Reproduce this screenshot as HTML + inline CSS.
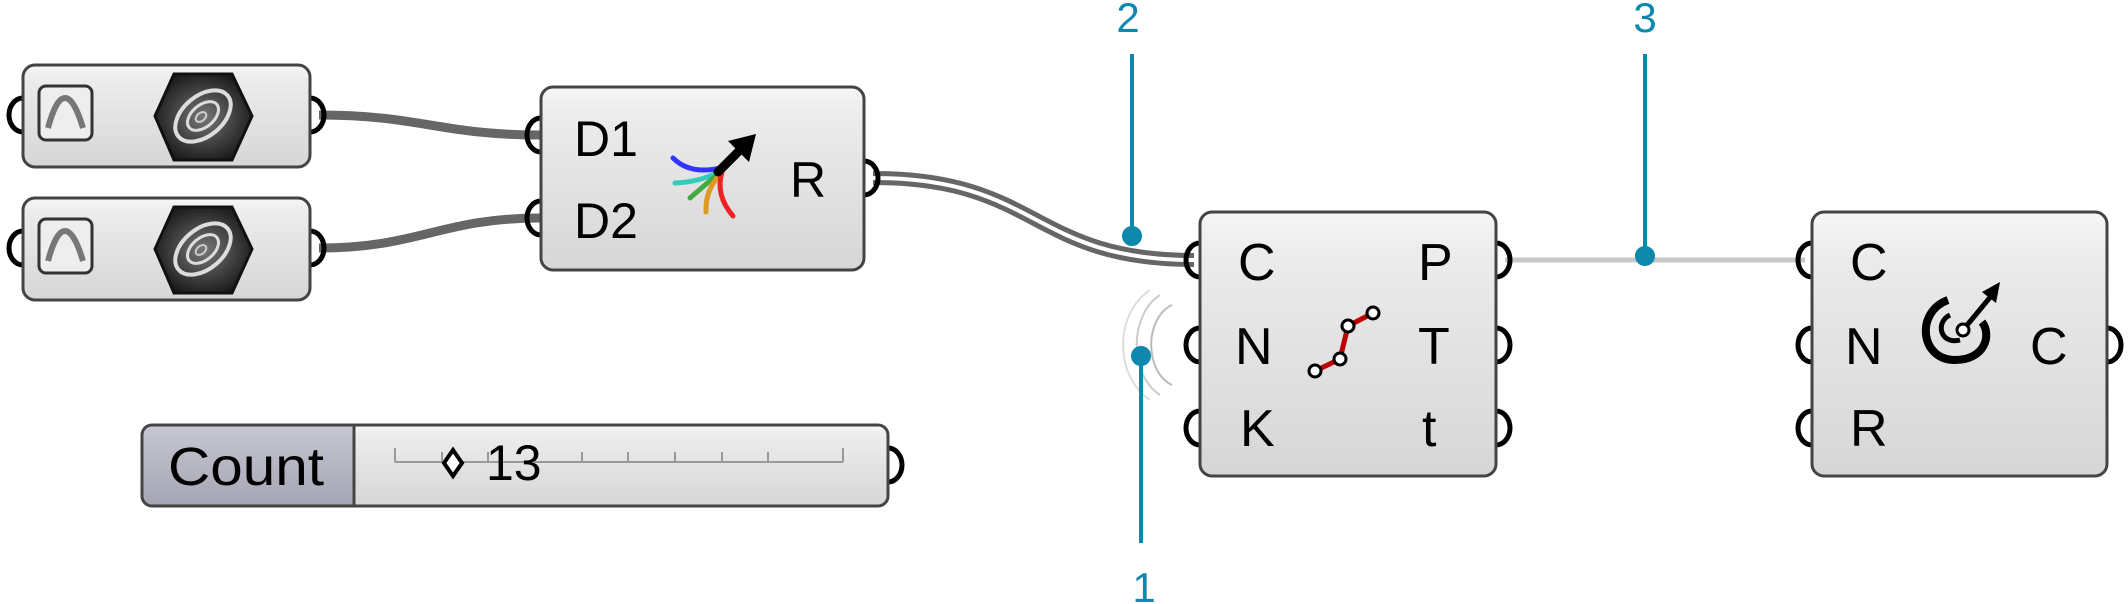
<!DOCTYPE html>
<html><head><meta charset="utf-8"><style>
html,body{margin:0;padding:0;background:#fff;}
svg{display:block;}
text{font-family:"Liberation Sans",sans-serif;}
</style></head><body>
<svg width="2128" height="604" viewBox="0 0 2128 604" xmlns="http://www.w3.org/2000/svg">
<defs>
<linearGradient id="g" x1="0" y1="0" x2="0" y2="1">
<stop offset="0" stop-color="#f6f6f6"/><stop offset="0.15" stop-color="#ececec"/><stop offset="1" stop-color="#d6d6d6"/>
</linearGradient>
<linearGradient id="gc" x1="0" y1="0" x2="0" y2="1">
<stop offset="0" stop-color="#c8c8d2"/><stop offset="1" stop-color="#a4a4b4"/>
</linearGradient>
<radialGradient id="hx" cx="0.5" cy="0.5" r="0.6">
<stop offset="0" stop-color="#777"/><stop offset="1" stop-color="#111"/>
</radialGradient>
</defs>

<!-- wires -->
<path d="M319,115 C420,115 440,135 541,135" stroke="#666" stroke-width="9" fill="none"/>
<path d="M319,248 C420,248 440,218 541,218" stroke="#666" stroke-width="9" fill="none"/>
<path d="M873,178 C1040,178 1030,260 1194,260" stroke="#666" stroke-width="14" fill="none"/>
<path d="M873,178 C1040,178 1030,260 1194,260" stroke="#fff" stroke-width="4" fill="none"/>
<line x1="1505" y1="260" x2="1805" y2="260" stroke="#c8c8c8" stroke-width="5"/>

<g stroke="#000" stroke-width="5" fill="none">
<path d="M23,98 A14,17 0 0 0 23,132"/><path d="M310,98 A14,17 0 0 1 310,132"/>
<path d="M23,231 A14,17 0 0 0 23,265"/><path d="M310,231 A14,17 0 0 1 310,265"/>
<path d="M541,118 A14,17 0 0 0 541,152"/><path d="M541,201 A14,17 0 0 0 541,235"/>
<path d="M864,161 A14,17 0 0 1 864,195"/>
<path d="M1200,243 A14,17 0 0 0 1200,277"/><path d="M1200,328 A14,17 0 0 0 1200,362"/><path d="M1200,411 A14,17 0 0 0 1200,445"/>
<path d="M1496,243 A14,17 0 0 1 1496,277"/><path d="M1496,328 A14,17 0 0 1 1496,362"/><path d="M1496,411 A14,17 0 0 1 1496,445"/>
<path d="M1812,243 A14,17 0 0 0 1812,277"/><path d="M1812,328 A14,17 0 0 0 1812,362"/><path d="M1812,411 A14,17 0 0 0 1812,445"/>
<path d="M2107,328 A14,17 0 0 1 2107,362"/>
<path d="M888,448 A14,17 0 0 1 888,482"/>
</g>

<g id="a1">
<rect x="23" y="65" width="287" height="102" rx="12" fill="url(#g)" stroke="#444" stroke-width="3"/>
<rect x="39" y="86" width="53" height="54" rx="7" fill="#eee" stroke="#333" stroke-width="3"/>
<path d="M48,128 Q56,98 65,98 Q74,98 83,128" stroke="#777" stroke-width="6" fill="none"/>
<polygon points="174,74 232,74 252,116 232,160 174,160 155,116" fill="url(#hx)" stroke="#111" stroke-width="3"/>
<ellipse cx="203" cy="116" rx="32" ry="20" fill="none" stroke="#ddd" stroke-width="4" transform="rotate(-40 203 116)"/>
<ellipse cx="203" cy="116" rx="18" ry="11" fill="none" stroke="#ddd" stroke-width="3" transform="rotate(-40 203 116)"/>
<ellipse cx="201" cy="117" rx="6" ry="4" fill="none" stroke="#ccc" stroke-width="2" transform="rotate(-40 201 117)"/>
</g>
<g transform="translate(0,133)">
<rect x="23" y="65" width="287" height="102" rx="12" fill="url(#g)" stroke="#444" stroke-width="3"/>
<rect x="39" y="86" width="53" height="54" rx="7" fill="#eee" stroke="#333" stroke-width="3"/>
<path d="M48,128 Q56,98 65,98 Q74,98 83,128" stroke="#777" stroke-width="6" fill="none"/>
<polygon points="174,74 232,74 252,116 232,160 174,160 155,116" fill="url(#hx)" stroke="#111" stroke-width="3"/>
<ellipse cx="203" cy="116" rx="32" ry="20" fill="none" stroke="#ddd" stroke-width="4" transform="rotate(-40 203 116)"/>
<ellipse cx="203" cy="116" rx="18" ry="11" fill="none" stroke="#ddd" stroke-width="3" transform="rotate(-40 203 116)"/>
<ellipse cx="201" cy="117" rx="6" ry="4" fill="none" stroke="#ccc" stroke-width="2" transform="rotate(-40 201 117)"/>
</g>

<!-- merge node -->
<rect x="541" y="87" width="323" height="183" rx="12" fill="url(#g)" stroke="#444" stroke-width="3"/>
<text x="574" y="156" font-size="50">D1</text>
<text x="574" y="238" font-size="50">D2</text>
<text x="790" y="197" font-size="50">R</text>
<g fill="none" stroke-width="5" stroke-linecap="round">
<path d="M673,158 Q690,175 720,168" stroke="#33f"/>
<path d="M675,183 Q700,182 718,172" stroke="#3cb"/>
<path d="M690,198 Q705,185 718,174" stroke="#4a4"/>
<path d="M706,212 Q705,190 720,175" stroke="#d92"/>
<path d="M733,216 Q715,195 722,172" stroke="#e22"/>
<path d="M718,172 L745,145" stroke="#000" stroke-width="9"/>
</g>
<polygon points="756,134 728,141 749,162" fill="#000"/>

<!-- count slider -->
<path d="M152,425 H354 V506 H152 Q142,506 142,496 V435 Q142,425 152,425 Z" fill="url(#gc)"/>
<path d="M354,425 H878 Q888,425 888,435 V496 Q888,506 878,506 H354 Z" fill="url(#g)"/>
<rect x="142" y="425" width="746" height="81" rx="10" fill="none" stroke="#444" stroke-width="3"/>
<line x1="354" y1="425" x2="354" y2="506" stroke="#444" stroke-width="3"/>
<text x="168" y="485" font-size="54" textLength="156" lengthAdjust="spacingAndGlyphs">Count</text>
<g stroke="#999" stroke-width="2">
<line x1="395" y1="462" x2="843" y2="462"/>
<line x1="395" y1="448" x2="395" y2="462"/><line x1="442" y1="452" x2="442" y2="462"/><line x1="488" y1="452" x2="488" y2="462"/>
<line x1="535" y1="452" x2="535" y2="462"/><line x1="582" y1="452" x2="582" y2="462"/><line x1="628" y1="452" x2="628" y2="462"/>
<line x1="675" y1="452" x2="675" y2="462"/><line x1="722" y1="452" x2="722" y2="462"/><line x1="768" y1="452" x2="768" y2="462"/><line x1="843" y1="448" x2="843" y2="462"/>
</g>
<polygon points="453,450 462,463 453,476 444,463" fill="#fff" stroke="#000" stroke-width="4"/>
<text x="486" y="480" font-size="50">13</text>

<!-- middle node -->
<path d="M1172,385 A30,42 0 0 1 1172,305" stroke="#bbb" stroke-width="2" fill="none"/>
<path d="M1160,395 A40,55 0 0 1 1160,295" stroke="#ccc" stroke-width="2" fill="none"/>
<path d="M1150,400 A50,62 0 0 1 1150,290" stroke="#ddd" stroke-width="2" fill="none"/>
<rect x="1200" y="212" width="296" height="264" rx="12" fill="url(#g)" stroke="#444" stroke-width="3"/>
<text x="1238" y="280" font-size="52">C</text>
<text x="1235" y="364" font-size="52">N</text>
<text x="1240" y="446" font-size="52">K</text>
<text x="1418" y="280" font-size="52">P</text>
<text x="1418" y="364" font-size="52">T</text>
<text x="1422" y="446" font-size="52">t</text>
<polyline points="1315,371 1340,359 1348,326 1373,313" fill="none" stroke="#b00" stroke-width="5"/>
<g fill="#fff" stroke="#000" stroke-width="3">
<circle cx="1315" cy="371" r="6"/><circle cx="1340" cy="359" r="6"/><circle cx="1348" cy="326" r="6"/><circle cx="1373" cy="313" r="6"/>
</g>

<!-- right node -->
<rect x="1812" y="212" width="295" height="264" rx="12" fill="url(#g)" stroke="#444" stroke-width="3"/>
<text x="1850" y="280" font-size="52">C</text>
<text x="1845" y="364" font-size="52">N</text>
<text x="1850" y="446" font-size="52">R</text>
<text x="2030" y="364" font-size="52">C</text>
<path d="M1948,300 C1915,312 1920,360 1955,360 C1985,360 1992,335 1982,322" fill="none" stroke="#000" stroke-width="8"/>
<path d="M1950,315 C1935,322 1940,345 1960,340" fill="none" stroke="#000" stroke-width="5"/>
<line x1="1963" y1="330" x2="1992" y2="295" stroke="#000" stroke-width="5"/>
<polygon points="2000,282 1982,292 1996,303" fill="#000"/>
<circle cx="1963" cy="330" r="6" fill="#fff" stroke="#000" stroke-width="3"/>

<!-- callouts -->
<g stroke="#1088ad" stroke-width="4" fill="#1088ad">
<line x1="1132" y1="54" x2="1132" y2="236"/><circle cx="1132" cy="236" r="8"/>
<line x1="1645" y1="54" x2="1645" y2="256"/><circle cx="1645" cy="256" r="8"/>
<line x1="1141" y1="356" x2="1141" y2="543"/><circle cx="1141" cy="356" r="8"/>
</g>
<g fill="#1088ad" font-size="42" text-anchor="middle">
<text x="1128" y="32">2</text>
<text x="1645" y="32">3</text>
<text x="1144" y="602">1</text>
</g>
</svg>
</body></html>
